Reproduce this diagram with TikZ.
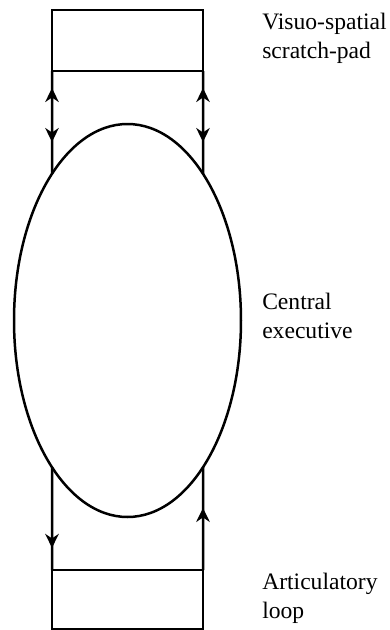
\documentclass[tikz,border=0pt]{standalone}
\usepackage{fontspec}
\setmainfont{Liberation Serif}
\usetikzlibrary{arrows.meta,shapes.geometric,decorations.markings,intersections}
\begin{document}
\begin{tikzpicture}[x=1pt,y=1pt,line width=2.5pt,
  >={Stealth[length=14pt,width=13.5pt,inset=4.5pt]},
  memorybox/.style={draw,minimum width=151pt,inner sep=0pt,outer sep=0pt,anchor=north west},
  exec/.style={draw,ellipse,minimum width=227pt,minimum height=393pt,inner sep=0pt,outer sep=0pt},
  lbl/.style={font=\fontsize{23.6}{29}\selectfont,align=left,anchor=north west,inner sep=0pt},
  twoheads/.style 2 args={postaction={decorate},decoration={markings,
      mark=at position #1 with {\arrowreversed{>}},
      mark=at position #2 with {\arrow{>}}}},
  downhead/.style={postaction={decorate},decoration={markings,
      mark=at position #1 with {\arrow{>}}}},
  uphead/.style={postaction={decorate},decoration={markings,
      mark=at position #1 with {\arrowreversed{>}}}}]
\useasboundingbox (0,0) rectangle (390,-630);
\node[memorybox,minimum height=61pt] (vs) at (52,-10) {};
\node[memorybox,minimum height=59pt] (al) at (52,-570) {};
\node[exec,name path=ell] (ce) at (127.5,-320.5) {};
% intersection points of the vertical connectors with the ellipse
\path[name path=lv] (vs.south west) -- (al.north west);
\path[name path=rv] (vs.south east) -- (al.north east);
\path[name intersections={of=lv and ell,by={lt,lb},sort by=lv}];
\path[name intersections={of=rv and ell,by={rt,rb},sort by=rv}];
% connectors
\draw[twoheads={17pt}{71pt}] (vs.south west) -- (lt);
\draw[twoheads={17pt}{71pt}] (vs.south east) -- (rt);
\draw[downhead=80.7pt] (lb) -- (al.north west);
\draw[uphead=40.7pt] (rb) -- (al.north east);
% labels
\node[lbl] (lvs) at (261,-11.5) {Visuo-spatial\\scratch-pad};
\node[lbl] (lce) at (261,-292) {Central\\executive};
\node[lbl] (lal) at (261,-572) {Articulatory\\loop};
\end{tikzpicture}
\end{document}
